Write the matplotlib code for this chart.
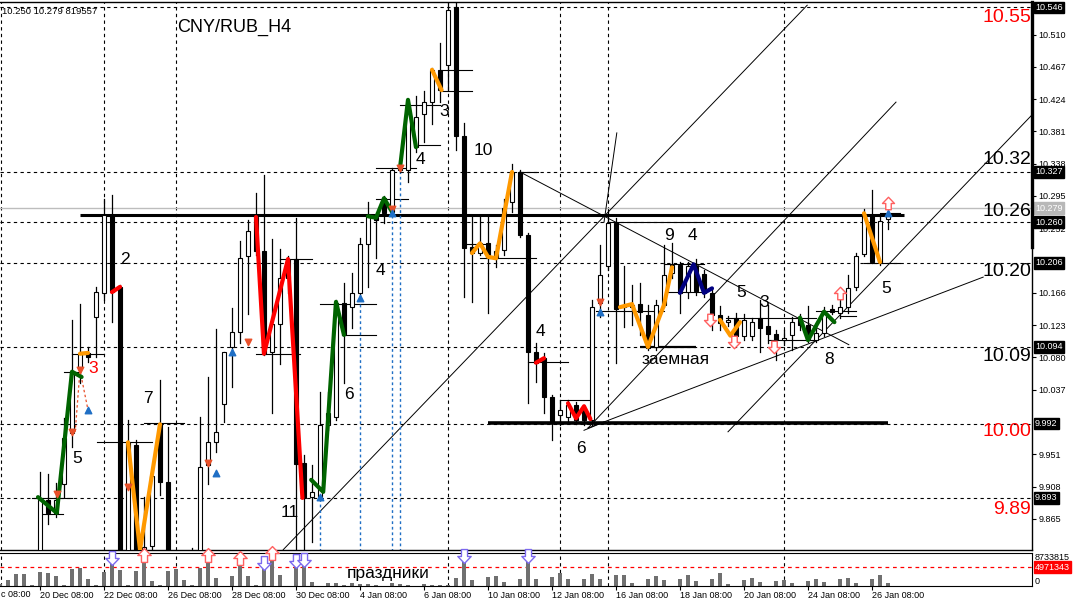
import matplotlib
matplotlib.use("Agg")
import matplotlib.pyplot as plt
import matplotlib.transforms as mtransforms
from matplotlib.patches import Rectangle
from matplotlib.path import Path

plt.rcParams['font.family'] = ['Liberation Sans', 'DejaVu Sans']

# ---------------- data ----------------
bar_open = [9.800, 9.790, 9.805, 9.800, 9.808, 9.805, 9.890, 9.873, 9.911, 9.979,
            10.067, 10.086, 10.134, 10.166, 10.270, 10.174, 9.805, 9.963, 9.805, 9.829,
            9.991, 9.914, 9.800, 9.795, 9.805, 9.805, 9.937, 9.967, 10.018, 10.094,
            10.114, 10.215, 10.267, 10.222, 10.087, 10.125, 10.186, 10.211, 9.939, 9.894,
            9.894, 9.990, 10.001, 10.153, 10.147, 10.166, 10.231, 10.267, 10.292, 10.274,
            10.330, 10.330, 10.360, 10.404, 10.420, 10.463, 10.469, 10.547, 10.375, 10.227,
            10.219, 10.232, 10.212, 10.223, 10.287, 10.327, 10.243, 10.087, 10.079, 10.027,
            10.003, 10.001, 10.017, 10.010, 9.997, 10.153, 10.202, 10.259, 10.147, 10.147,
            10.151, 10.137, 10.094, 10.150, 10.192, 10.203, 10.167, 10.202, 10.191, 10.166,
            10.137, 10.127, 10.133, 10.109, 10.109, 10.133, 10.122, 10.111, 10.103, 10.110,
            10.133, 10.123, 10.103, 10.113, 10.145, 10.139, 10.147, 10.174, 10.218, 10.270,
            10.207, 10.264]
bar_close = [9.795, 9.805, 9.800, 9.808, 9.805, 9.890, 9.873, 9.890, 9.973, 10.061,
             10.085, 10.081, 10.167, 10.270, 10.167, 9.800, 9.967, 9.805, 9.828, 9.922,
             9.914, 9.800, 9.795, 9.800, 9.810, 9.934, 9.967, 9.981, 10.087, 10.114,
             10.212, 10.248, 10.222, 10.085, 10.125, 10.186, 10.211, 9.938, 9.893, 9.901,
             9.990, 10.006, 10.153, 10.110, 10.166, 10.231, 10.270, 10.263, 10.272, 10.330,
             10.332, 10.416, 10.400, 10.420, 10.463, 10.436, 10.543, 10.375, 10.226, 10.219,
             10.232, 10.212, 10.222, 10.279, 10.327, 10.243, 10.087, 10.073, 10.027, 9.993,
             10.010, 10.017, 9.997, 9.997, 10.147, 10.190, 10.259, 10.145, 10.149, 10.150,
             10.141, 10.093, 10.150, 10.190, 10.203, 10.166, 10.202, 10.168, 10.166, 10.137,
             10.126, 10.130, 10.109, 10.130, 10.127, 10.119, 10.111, 10.103, 10.106, 10.127,
             10.123, 10.103, 10.113, 10.141, 10.141, 10.147, 10.172, 10.215, 10.270, 10.207,
             10.262, 10.270]
bar_high = [9.810, 9.812, 9.815, 9.815, 9.815, 9.927, 9.925, 9.913, 9.999, 10.130,
            10.151, 10.094, 10.174, 10.291, 10.296, 10.177, 9.997, 9.970, 9.894, 9.933,
            10.050, 9.987, 9.810, 9.812, 9.826, 10.001, 10.054, 10.118, 10.087, 10.146,
            10.235, 10.263, 10.299, 10.323, 10.238, 10.224, 10.215, 10.266, 9.950, 9.937,
            10.034, 10.034, 10.157, 10.179, 10.192, 10.239, 10.287, 10.270, 10.295, 10.332,
            10.335, 10.423, 10.428, 10.435, 10.465, 10.499, 10.552, 10.552, 10.392, 10.267,
            10.270, 10.267, 10.230, 10.291, 10.338, 10.330, 10.246, 10.099, 10.086, 10.030,
            10.023, 10.023, 10.021, 10.017, 10.157, 10.230, 10.276, 10.266, 10.202, 10.177,
            10.179, 10.150, 10.157, 10.230, 10.232, 10.207, 10.207, 10.211, 10.196, 10.172,
            10.149, 10.135, 10.139, 10.138, 10.133, 10.157, 10.150, 10.117, 10.117, 10.134,
            10.138, 10.149, 10.123, 10.147, 10.150, 10.157, 10.190, 10.219, 10.278, 10.303,
            10.270, 10.272]
bar_low = [9.780, 9.780, 9.785, 9.790, 9.795, 9.800, 9.858, 9.868, 9.894, 9.961,
           10.046, 10.074, 10.081, 10.157, 10.127, 9.790, 9.795, 9.795, 9.795, 9.824,
           9.897, 9.790, 9.780, 9.785, 9.790, 9.800, 9.911, 9.954, 9.994, 10.041,
           10.099, 10.138, 10.216, 10.083, 10.006, 10.071, 10.166, 9.821, 9.824, 9.834,
           9.890, 9.983, 9.997, 10.046, 10.119, 10.157, 10.174, 10.212, 10.259, 10.272,
           10.327, 10.314, 10.354, 10.367, 10.391, 10.420, 10.436, 10.356, 10.161, 10.154,
           10.216, 10.139, 10.200, 10.216, 10.274, 10.240, 10.019, 10.047, 10.006, 9.970,
           9.990, 9.994, 9.991, 9.990, 9.990, 10.134, 10.196, 10.073, 10.121, 10.123,
           10.110, 10.090, 10.090, 10.147, 10.186, 10.139, 10.159, 10.163, 10.161, 10.117,
           10.117, 10.122, 10.097, 10.103, 10.103, 10.087, 10.099, 10.077, 10.097, 10.090,
           10.117, 10.101, 10.101, 10.109, 10.138, 10.133, 10.139, 10.170, 10.215, 10.206,
           10.203, 10.251]
volume_m = [0.40, 1.51, 3.10, 3.26, 0.19, 3.71, 3.44, 2.65, 0.27, 4.43,
            4.85, 1.78, 0.34, 3.71, 5.83, 4.16, 0.19, 3.98, 6.81, 1.25,
            0.34, 3.98, 4.43, 1.51, 0.34, 4.77, 6.81, 2.12, 0.00, 2.57,
            5.91, 2.57, 0.34, 4.58, 7.23, 2.99, 0.00, 5.04, 5.30, 1.06,
            0.00, 0.80, 0.80, 0.34, 0.80, 0.61, 0.61, 0.34, 0.00, 0.80,
            0.53, 0.19, 0.00, 0.45, 0.19, 0.19, 0.19, 2.12, 6.36, 1.51,
            0.00, 2.39, 2.65, 1.06, 0.00, 1.78, 6.36, 1.78, 0.00, 2.39,
            3.44, 1.78, 0.00, 1.78, 3.10, 1.78, 0.00, 2.84, 2.84, 0.80,
            0.00, 1.78, 2.65, 1.51, 0.00, 1.78, 2.84, 1.25, 0.00, 1.78,
            3.52, 0.45, 0.00, 1.51, 2.20, 1.06, 0.00, 1.25, 1.51, 0.80,
            0.00, 1.25, 1.78, 1.06, 0.00, 1.78, 2.12, 0.80, 0.00, 1.93,
            2.99, 0.80]
vol_max = 8.733815
vol_avg = 4.971343

date_ticks = [5, 13, 21, 29, 37, 45, 53, 61, 69, 77, 85, 93, 101, 109]
date_labels = ["20 Dec 08:00", "22 Dec 08:00", "26 Dec 08:00", "28 Dec 08:00",
               "30 Dec 08:00", "4 Jan 08:00", "6 Jan 08:00", "10 Jan 08:00", "12 Jan 08:00",
               "16 Jan 08:00", "18 Jan 08:00", "20 Jan 08:00", "24 Jan 08:00", "26 Jan 08:00"]
cut_date_label = "c 08:00"   # tail of "18 Dec 08:00", cut by the left edge

price_ticks = [10.510, 10.467, 10.424, 10.381, 10.338, 10.295, 10.252, 10.166,
               10.123, 10.080, 10.037, 9.951, 9.908, 9.865]
boxed_levels = [10.546, 10.327, 10.260, 10.206, 10.094, 9.992, 9.893]
grid_levels = [10.546, 10.327, 10.260, 10.206, 10.094, 9.992, 9.893]
grid_bars = [0.15, 13, 22, 56, 70, 76, 98]
ask_price = 10.279

# coloured wave overlays: (colour, [(bar, price), ...])
waves = [
    ('#006400', [(4.75, 9.894), (7.1, 9.873), (9, 10.061), (10.2, 10.054)]),
    ('#006400', [(38.9, 9.917), (40.4, 9.901), (42, 10.154), (43, 10.110)]),
    ('#006400', [(46, 10.268), (47, 10.266), (48, 10.292), (49, 10.274)]),
    ('#006400', [(50, 10.332), (51, 10.423), (52, 10.360)]),
    ('#006400', [(100, 10.133), (101, 10.103), (103, 10.141), (104.3, 10.127)]),
    ('#ff0000', [(32, 10.267), (33, 10.085), (36, 10.211), (37.8, 9.893)]),
    ('#ff0000', [(14, 10.167), (15, 10.174)]),
    ('#ff0000', [(67, 10.073), (68, 10.079)]),
    ('#ff0000', [(71, 10.019), (72, 9.999), (73, 10.015), (73.8, 9.998)]),
    ('#ff9900', [(10, 10.085), (11, 10.086)]),
    ('#ff9900', [(16, 9.967), (17.5, 9.824), (20, 9.991)]),
    ('#ff9900', [(54, 10.463), (55.2, 10.436)]),
    ('#ff9900', [(59, 10.219), (60, 10.232), (61, 10.214), (62, 10.212), (64, 10.327)]),
    ('#ff9900', [(77.5, 10.147), (79, 10.151), (81, 10.094), (83, 10.150), (84, 10.200)]),
    ('#ff9900', [(90, 10.130), (91.3, 10.109), (92.5, 10.127)]),
    ('#ff9900', [(108, 10.272), (110, 10.207)]),
    ('#000080', [(85, 10.166), (86.7, 10.204), (88, 10.166), (89, 10.172)]),
]

trend_lines = [((35.4, 9.824), (100.9, 10.549)), ((73.5, 9.986), (112.0, 10.420)),
               ((91.0, 9.981), (129.0, 10.403)), ((73.5, 9.986), (122.9, 10.187)),
               ((65.0, 10.327), (106.1, 10.097)), ((75.5, 10.260), (77.1, 10.379)),
               ((73.0, 9.983), (75.5, 9.994))]

# thin fractal levels: (bar from, bar to, price)
levels = [(4, 9, 9.893), (5.25, 7.9, 9.872), (8, 10, 10.060), (9, 13, 10.085),
          (12.1, 19, 9.967), (18, 23, 9.993), (32, 37.5, 10.085), (35, 39, 10.211),
          (40, 47, 10.151), (42.7, 47, 10.110), (47, 51, 10.291), (47, 52, 10.332),
          (50, 55, 10.416), (52, 55, 10.363), (55, 59, 10.463), (55, 59, 10.435),
          (58, 61, 10.231), (60, 67, 10.212), (65, 67.2, 10.327), (66, 71, 10.074),
          (70, 73.8, 10.023), (70, 73.8, 9.994), (74.5, 83, 10.142), (76, 88, 10.261),
          (83, 88, 10.204), (83, 88, 10.167), (90.7, 102, 10.133), (96, 102, 10.103),
          (102, 107, 10.142), (105, 107, 10.135), (108, 112.5, 10.206), (110, 112.5, 10.272)]
thick_levels = [(10, 113, 10.270, 2.2), (61, 111, 9.993, 2.6), (80, 87, 10.094, 1.6)]

fractal_down = [(10, 10.063), (9, 9.981), (7.1, 9.898), (16, 9.907), (31, 10.101),
                (26, 9.939), (49, 10.278), (50, 10.332), (75, 10.154)]
fractal_up = [(11, 10.010), (29, 10.087), (27, 9.926), (40, 9.894), (45, 10.159),
              (49, 10.272), (75, 10.141), (111, 10.272)]
blue_drops = [(16, 9.907), (40, 9.894), (45, 10.159), (49, 10.272), (50, 10.332)]
hollow_down = [(88.75, 10.130), (91.75, 10.101), (96.75, 10.094)]
hollow_up = [(105, 10.166), (111, 10.286)]
vol_down_bars = [14, 33, 37, 38, 58, 66]
vol_up_bars = [18, 26, 30, 34]

wave_counts = [("2", 15.6, 10.210, 'black'), ("3", 11.6, 10.065, 'red'), ("5", 9.6, 9.946, 'black'),
               ("7", 18.5, 10.026, 'black'), ("11", 36.25, 9.873, 'black'), ("6", 43.6, 10.031, 'black'),
               ("4", 47.6, 10.196, 'black'), ("4", 52.6, 10.343, 'black'), ("3", 55.5, 10.407, 'black'),
               ("10", 60.4, 10.355, 'black'), ("4", 67.5, 10.115, 'black'), ("6", 72.6, 9.959, 'black'),
               ("9", 83.6, 10.242, 'black'), ("4", 86.6, 10.242, 'black'), ("5", 92.6, 10.166, 'black'),
               ("3", 95.5, 10.153, 'black'), ("8", 103.6, 10.077, 'black'), ("5", 110.75, 10.172, 'black')]
level_notes = [("10.55", 10.533, 'red'), ("10.32", 10.343, 'black'), ("10.26", 10.274, 'black'),
               ("10.20", 10.194, 'black'), ("10.09", 10.081, 'black'), ("10.00", 9.981, 'red'),
               ("9.89", 9.877, 'red')]

# hollow arrow markers like the terminal draws
arrow_down = Path([(-0.22, 0.5), (0.22, 0.5), (0.22, 0.0), (0.48, 0.0), (0.0, -0.5),
                   (-0.48, 0.0), (-0.22, 0.0), (-0.22, 0.5)], closed=True)
arrow_up = Path([(x, -y) for x, y in arrow_down.vertices], closed=True)

# ---------------- figure ----------------
fig = plt.figure(figsize=(10.73, 6.07), dpi=100)
ax = fig.add_axes([0, 0.0939, 0.96179, 0.9028])
vax = fig.add_axes([0, 0.0346, 0.96179, 0.05437])

x_max = 129

dash = (0, (3, 3))
for lv in grid_levels:
    ax.axhline(lv, color='black', lw=0.8, ls=dash, zorder=1)
for b in grid_bars:
    ax.axvline(b, color='black', lw=0.8, ls=dash, zorder=1)
    vax.axvline(b, color='black', lw=0.8, ls=dash, zorder=1)
ax.axhline(ask_price, color='#bdbdbd', lw=1.0, zorder=1)

# trend lines and levels
for (x0, y0), (x1, y1) in trend_lines:
    ax.plot([x0, x1], [y0, y1], color='black', lw=0.7, zorder=2)
for x0, x1, y in levels:
    ax.plot([x0, x1], [y, y], color='black', lw=0.8, zorder=2)
for x0, x1, y, w in thick_levels:
    ax.plot([x0, x1], [y, y], color='black', lw=w, zorder=2, solid_capstyle='butt')
for b, p in blue_drops:
    ax.plot([b, b], [9.80, p], color='#1f6fc5', lw=1.0, ls=(0, (2, 2)), zorder=2)
ax.plot([10, 9.4], [10.063, 9.981], color='#e8502a', lw=0.9, ls=(0, (2, 2)), zorder=2)
ax.plot([10, 11], [10.063, 10.010], color='#e8502a', lw=0.9, ls=(0, (2, 2)), zorder=2)

# candles
body_w = 0.6
for k in range(len(bar_open)):
    o, c, h, l = bar_open[k], bar_close[k], bar_high[k], bar_low[k]
    ax.plot([k, k], [l, h], color='black', lw=0.9, zorder=3)
    fc = 'white' if c >= o else 'black'
    ax.add_patch(Rectangle((k - body_w / 2, min(o, c)), body_w, max(abs(c - o), 0.0008),
                           facecolor=fc, edgecolor='black', lw=0.8, zorder=3.5))

for col, pts in waves:
    xs = [p[0] for p in pts]
    ys = [p[1] for p in pts]
    ax.plot(xs, ys, color=col, lw=3.0, zorder=4, solid_capstyle='round')

ax.scatter([p[0] for p in fractal_down], [p[1] for p in fractal_down], marker='v',
           s=22, color='#e8502a', zorder=5)
ax.scatter([p[0] for p in fractal_up], [p[1] for p in fractal_up], marker='^',
           s=22, color='#1f6fc5', zorder=5)
ax.plot([p[0] for p in hollow_down], [p[1] for p in hollow_down], ls='none',
        marker=arrow_down, markersize=9, mfc='white', mec='#ff6060', mew=1.0, zorder=6)
ax.plot([p[0] for p in hollow_up], [p[1] for p in hollow_up], ls='none',
        marker=arrow_up, markersize=9, mfc='white', mec='#ff6060', mew=1.0, zorder=6)

# texts
ax.text(22.1, 10.520, "CNY/RUB_H4", fontsize=13, ha='left', va='center', zorder=6)
for s, b, p, col in wave_counts:
    ax.text(b, p, s, fontsize=12.5, color=col, ha='center', va='center', zorder=6)
ax.text(84.5, 10.077, "заемная", fontsize=12.5, ha='center', va='center', zorder=6)
for s, p, col in level_notes:
    ax.text(x_max - 0.1, p, s, fontsize=14, color=col, ha='right', va='center', zorder=6)
ax.text(0.3, 10.541, "10.250 10.279 819557", fontsize=6.8, ha='left', va='center', zorder=6)

# right price axis
ax.yaxis.tick_right()
ax.set_yticks(price_ticks)
ax.set_yticklabels([f"{v:.3f}" for v in price_ticks])
ax.tick_params(axis='y', labelsize=6.5, length=3, pad=1.5, width=0.8)
ax.set_xticks([])
ax.set_xlim(0, x_max)
ax.set_ylim(9.8236, 10.5533)
yt = mtransforms.blended_transform_factory(ax.transAxes, ax.transData)
for lv in boxed_levels:
    ax.text(1.003, lv, f"{lv:.3f}", transform=yt, fontsize=6.5, color='white', ha='left',
            va='center', zorder=7, clip_on=False,
            bbox=dict(boxstyle='square,pad=0.15', fc='black', ec='black'))
ax.text(1.003, ask_price, f"{ask_price:.3f}", transform=yt, fontsize=6.5, color='white',
        ha='left', va='center', zorder=7, clip_on=False,
        bbox=dict(boxstyle='square,pad=0.15', fc='#b8b8b8', ec='#b8b8b8'))
ax.plot([1.0, 1.0], [10.227, 10.5533], transform=yt, color='black', lw=2.4,
        clip_on=False, zorder=7)

for side in ['top', 'right', 'bottom']:
    ax.spines[side].set_linewidth(1.0)
ax.spines['left'].set_visible(False)

# volume panel
vax.bar(range(len(volume_m)), volume_m, width=0.42, color='#707070', zorder=2)
vax.axhline(vol_avg, color='red', lw=0.9, ls=dash, zorder=1)
arrow_lift = 1.45
vax.plot(vol_down_bars, [volume_m[b] + arrow_lift for b in vol_down_bars], ls='none',
         marker=arrow_down, markersize=10, mfc='white', mec='#7b68ee', mew=1.0,
         zorder=5, clip_on=False)
vax.plot(vol_up_bars, [volume_m[b] + arrow_lift for b in vol_up_bars], ls='none',
         marker=arrow_up, markersize=10, mfc='white', mec='#ff6060', mew=1.0,
         zorder=5, clip_on=False)
vax.text(48.5, 3.4, "праздники", fontsize=12.5, ha='center', va='center', zorder=6)
vax.set_yticks([])
vt = mtransforms.blended_transform_factory(vax.transAxes, vax.transData)
vax.text(1.003, 7.6, f"{vol_max * 1e6:.0f}", transform=vt, fontsize=6.5, ha='left',
         va='center', clip_on=False)
vax.text(1.003, 1.3, "0", transform=vt, fontsize=6.5, ha='left', va='center', clip_on=False)
vax.text(1.003, vol_avg, f"{vol_avg * 1e6:.0f}", transform=vt, fontsize=6.5, color='white',
         ha='left', va='center', clip_on=False, zorder=7,
         bbox=dict(boxstyle='square,pad=0.15', fc='red', ec='red'))
vax.set_xticks(date_ticks)
vax.set_xticklabels(date_labels)
vax.tick_params(axis='x', labelsize=6.5, length=3, pad=0.5, width=0.8)
for lab in vax.get_xticklabels():
    lab.set_horizontalalignment('left')
vax.set_xlim(0, x_max)
vax.set_ylim(0, vol_max)
vax.text(0.0005, -0.12, cut_date_label, transform=vax.transAxes, fontsize=6.5,
         ha='left', va='top', clip_on=False)
vax.spines['left'].set_visible(False)

fig.savefig("out.png", dpi=100)
